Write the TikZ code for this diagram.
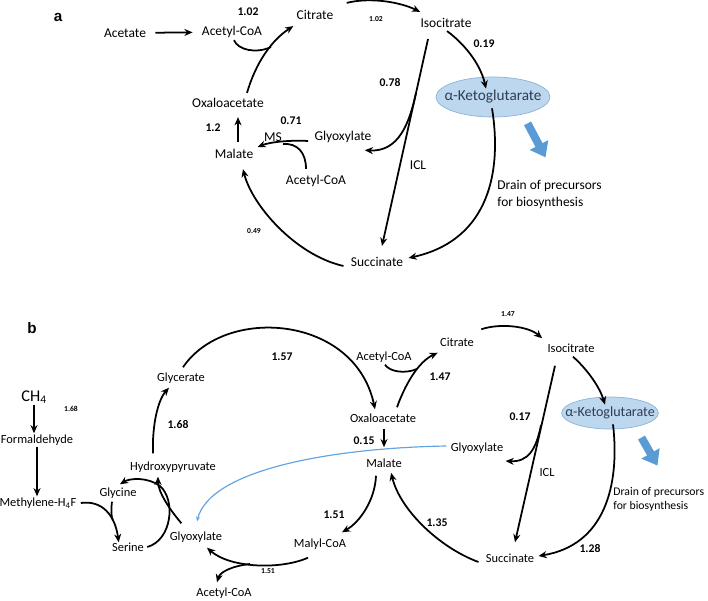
\documentclass[tikz,border=0pt]{standalone}
\usepackage{fontspec}
\setmainfont{Carlito}
\newfontfamily\panelfont{Liberation Sans}
\usetikzlibrary{arrows.meta, calc, shapes.geometric}
\definecolor{akgfill}{RGB}{189,215,238}
\definecolor{akgline}{RGB}{140,178,220}
\definecolor{akgtext}{RGB}{45,62,85}
\definecolor{drainblue}{RGB}{91,155,213}
\definecolor{glxblue}{RGB}{98,163,224}

\tikzset{
  met/.style={font=\fontsize{11.5}{14.5}\selectfont, inner sep=1pt},
  metb/.style={font=\fontsize{10.6}{11.8}\selectfont, inner sep=1pt},
  flux/.style={font=\bfseries\fontsize{10}{12}\selectfont, inner sep=1pt},
  fluxs/.style={font=\bfseries\fontsize{6.5}{8}\selectfont, inner sep=1pt},
  panel/.style={font=\panelfont\bfseries\fontsize{13}{15}\selectfont},
  rxn/.style={line width=1.5pt, -{Stealth[length=7pt,width=6pt]}},
  joinline/.style={line width=1.5pt},
  akg/.style={ellipse, fill=akgfill, draw=akgline, line width=0.6pt, text=akgtext, inner ysep=0pt},
  drain/.style={draw=drainblue, line width=2.4mm, -{Triangle[length=4.2mm,width=6mm]}},
  glxline/.style={draw=glxblue, line width=1pt, -{Stealth[length=4pt,width=3.5pt]}}
}

\begin{document}
\begin{tikzpicture}[x=0.03cm, y=-0.03cm]
  \useasboundingbox (0,0) rectangle (708,601);

  % panel a
  \node[panel] (pa) at (58,17) {a};
  \node[met] (acetate) at (125,33) {Acetate};
  \node[met] (accoaA) at (232,32) {Acetyl-CoA};
  \node[met] (citA) at (315,15) {Citrate};
  \node[met] (isoA) at (446,23) {Isocitrate};
  \node[met] (oaaA) at (228,103) {Oxaloacetate};
  \node[met] (malA) at (234,154) {Malate};
  \node[met] (glxA) at (343,137) {Glyoxylate};
  \node[met] (accoaA2) at (316,181) {Acetyl-CoA};
  \node[met] (succA) at (377,262) {Succinate};
  \node[met] (msA) at (273,137) {MS};
  \node[met] (iclA) at (418,165) {ICL};
  \node[akg, font=\fontsize{13}{15}\selectfont, inner xsep=-7pt, minimum width=3.15cm, minimum height=1.2cm] (akgA) at (493,97) {α-Ketoglutarate};
  \node[met, align=left, anchor=west] (drainA) at (496,194) {Drain of precursors\\for biosynthesis};

  \node[flux] (fA1) at (248,12) {1.02};
  \node[fluxs] (fA2) at (376,19) {1.02};
  \node[flux] (fA3) at (484,44) {0.19};
  \node[flux] (fA4) at (390,83) {0.78};
  \node[flux] (fA5) at (291,121) {0.71};
  \node[flux] (fA6) at (213,128) {1.2};
  \node[fluxs] (fA7) at (254,231) {0.49};

  \coordinate (jA1) at (271,47);
  \coordinate (jA2) at (416,93);
  \coordinate (jA3) at (283,144);

  \draw[rxn, shorten <=2.4mm, shorten >=2.4mm] (acetate) -- (accoaA);
  \draw[rxn] ($(oaaA.north)+(19,-4)$) .. controls (256,62) and (272,40) .. ($(citA.south west)+(-2,5)$);
  \draw[joinline] ($(accoaA.south)+(2,1)$) .. controls (238,50) and (256,54) .. (jA1);
  \draw[rxn] ($(citA.north east)+(12,-6)$) .. controls (370,-3) and (400,2) .. ($(isoA.north west)+(1,-5)$);
  \draw[rxn] ($(isoA.south)+(1,2)$) .. controls (462,42) and (480,62) .. ($(akgA.north)+(-7,12)$);
  \draw[rxn] ($(akgA.south)+(-1,-9)$) .. controls (502,170) and (490,240) .. ($(succA.east)+(4,-4)$);
  \draw[rxn] ($(isoA.south)+(-18,10)$) -- ($(succA.north)+(5,-10)$);
  \draw[rxn] (jA2) .. controls (409,125) and (398,152) .. ($(glxA.south east)+(-8,6)$);
  \draw[rxn] ($(glxA.west)+(-5,4)$) .. controls (290,140) and (270,142) .. ($(malA.east)+(3,-7)$);
  \draw[joinline] ($(accoaA2.north)+(-10,-5)$) .. controls (306,152) and (297,143) .. (jA3);
  \draw[rxn] ($(malA.north)+(4,-6)$) -- ($(oaaA.south)+(10,8)$);
  \draw[rxn] ($(succA.west)+(-6,4)$) .. controls (295,255) and (252,205) .. ($(malA.south)+(9,9)$);
  \draw[drain] ($(akgA.south east)+(-6,12)$) -- ($(akgA.south east)+(12,46)$);

  % panel b
  \node[panel] (pb) at (32,328) {b};
  \node[metb, font=\fontsize{14}{16}\selectfont] (ch4) at (34,397) {CH\textsubscript{4}};
  \node[metb] (form) at (37,440) {Formaldehyde};
  \node[metb] (mthf) at (38,503) {Methylene-H\textsubscript{4}F};
  \node[metb] (glyc) at (181,378) {Glycerate};
  \node[metb] (hpyr) at (173,467) {Hydroxypyruvate};
  \node[metb] (gly) at (118,493) {Glycine};
  \node[metb] (ser) at (128,547) {Serine};
  \node[metb] (glxB2) at (196,537) {Glyoxylate};
  \node[metb] (accoaB2) at (224,593) {Acetyl-CoA};
  \node[metb] (malcoa) at (320,544) {Malyl-CoA};
  \node[metb] (oaaB) at (383,418) {Oxaloacetate};
  \node[metb] (accoaB) at (384,357) {Acetyl-CoA};
  \node[metb] (citB) at (457,342) {Citrate};
  \node[metb] (isoB) at (571,348) {Isocitrate};
  \node[metb] (malB) at (384,463) {Malate};
  \node[metb] (glxB) at (477,448) {Glyoxylate};
  \node[metb] (succB) at (510,558) {Succinate};
  \node[metb] (iclB) at (547,473) {ICL};
  \node[akg, font=\fontsize{12}{14}\selectfont, inner xsep=-9pt, minimum width=2.6cm, minimum height=0.96cm] (akgB) at (610,413) {α-Ketoglutarate};
  \node[metb, font=\fontsize{10}{11.8}\selectfont, align=left, anchor=west] (drainB) at (612,499) {Drain of precursors\\for biosynthesis};

  \node[fluxs] (fB1) at (71,409) {1.68};
  \node[flux] (fB2) at (178,424) {1.68};
  \node[fluxs] (fB3) at (268,571) {1.51};
  \node[flux] (fB4) at (334,515) {1.51};
  \node[flux] (fB5) at (282,357) {1.57};
  \node[flux] (fB6) at (440,377) {1.47};
  \node[fluxs] (fB7) at (508,314) {1.47};
  \node[flux] (fB8) at (364,441) {0.15};
  \node[flux] (fB9) at (520,417) {0.17};
  \node[flux] (fB10) at (437,523) {1.35};
  \node[flux] (fB11) at (590,548) {1.28};

  \coordinate (jB1) at (113,521);
  \coordinate (jB2) at (417,369);
  \coordinate (jB3) at (541,425);
  \coordinate (jB4) at (250,564);

  \draw[rxn] (ch4) -- (ch4 |- form.north);
  \draw[rxn] (form) -- (form |- mthf.north);
  \draw[rxn] ($(mthf.east)+(3,0)$) .. controls (102,500) and (115,515) .. ($(ser.north west)+(8,1)$);
  \draw[joinline] ($(gly.south)+(-6,2)$) .. controls (111,510) and (111,516) .. (jB1);
  \draw[rxn] ($(ser.east)+(2,0)$) .. controls (172,540) and (176,500) .. (160,486) .. controls (148,477) and (130,478) .. ($(gly.north)+(2,-2)$);
  \draw[rxn] ($(glxB2.north west)+(13,-7)$) .. controls (170,510) and (158,492) .. ($(hpyr.south)+(-15,3)$);
  \draw[rxn] ($(hpyr.north)+(-20,-7)$) .. controls (152,425) and (158,400) .. ($(glyc.south)+(-12,3)$);
  \draw[rxn] ($(glyc.north)+(2,-4)$) .. controls (225,305) and (355,315) .. ($(oaaB.north)+(-8,-3)$);
  \draw[rxn] ($(oaaB.north)+(14,-5)$) .. controls (405,385) and (418,362) .. ($(citB.south west)+(-1,5)$);
  \draw[joinline] ($(accoaB.south)+(1,1)$) .. controls (390,372) and (405,374) .. (jB2);
  \draw[rxn] ($(citB.north east)+(6,-7)$) .. controls (500,323) and (528,326) .. ($(isoB.north west)+(-4,-4)$);
  \draw[rxn] ($(isoB.south)+(2,3)$) .. controls (588,370) and (600,388) .. ($(akgB.north)+(-5,8)$);
  \draw[rxn] ($(akgB.south)+(3,-5)$) .. controls (620,485) and (605,545) .. ($(succB.east)+(3,-2)$);
  \draw[rxn] ($(isoB.south)+(-16,12)$) -- ($(succB.north)+(5,-10)$);
  \draw[rxn] (jB3) .. controls (536,450) and (528,462) .. ($(glxB.east)+(1,13)$);
  \draw[rxn] ($(succB.west)+(-6,4)$) .. controls (440,548) and (400,510) .. ($(malB.south east)+(-12,4)$);
  \draw[rxn] ($(oaaB.south)+(1,5)$) -- ($(malB.north)+(0,-10)$);
  \draw[rxn] ($(malB.south)+(-8,7)$) .. controls (375,500) and (360,522) .. ($(malcoa.north)+(22,-5)$);
  \draw[rxn] ($(malcoa.south)+(-12,7)$) .. controls (280,570) and (230,568) .. ($(glxB2.south)+(11,4)$);
  \draw[rxn] (jB4) .. controls (232,566) and (220,572) .. ($(accoaB2.north)+(-7,-4)$);
  \draw[glxline] ($(glxB.west)+(-3,-2)$) .. controls (330,448) and (210,470) .. ($(glxB2.north)+(1,-9)$);
  \draw[drain] ($(akgB.south east)+(-3,13)$) -- ($(akgB.south east)+(13,41)$);
\end{tikzpicture}
\end{document}
